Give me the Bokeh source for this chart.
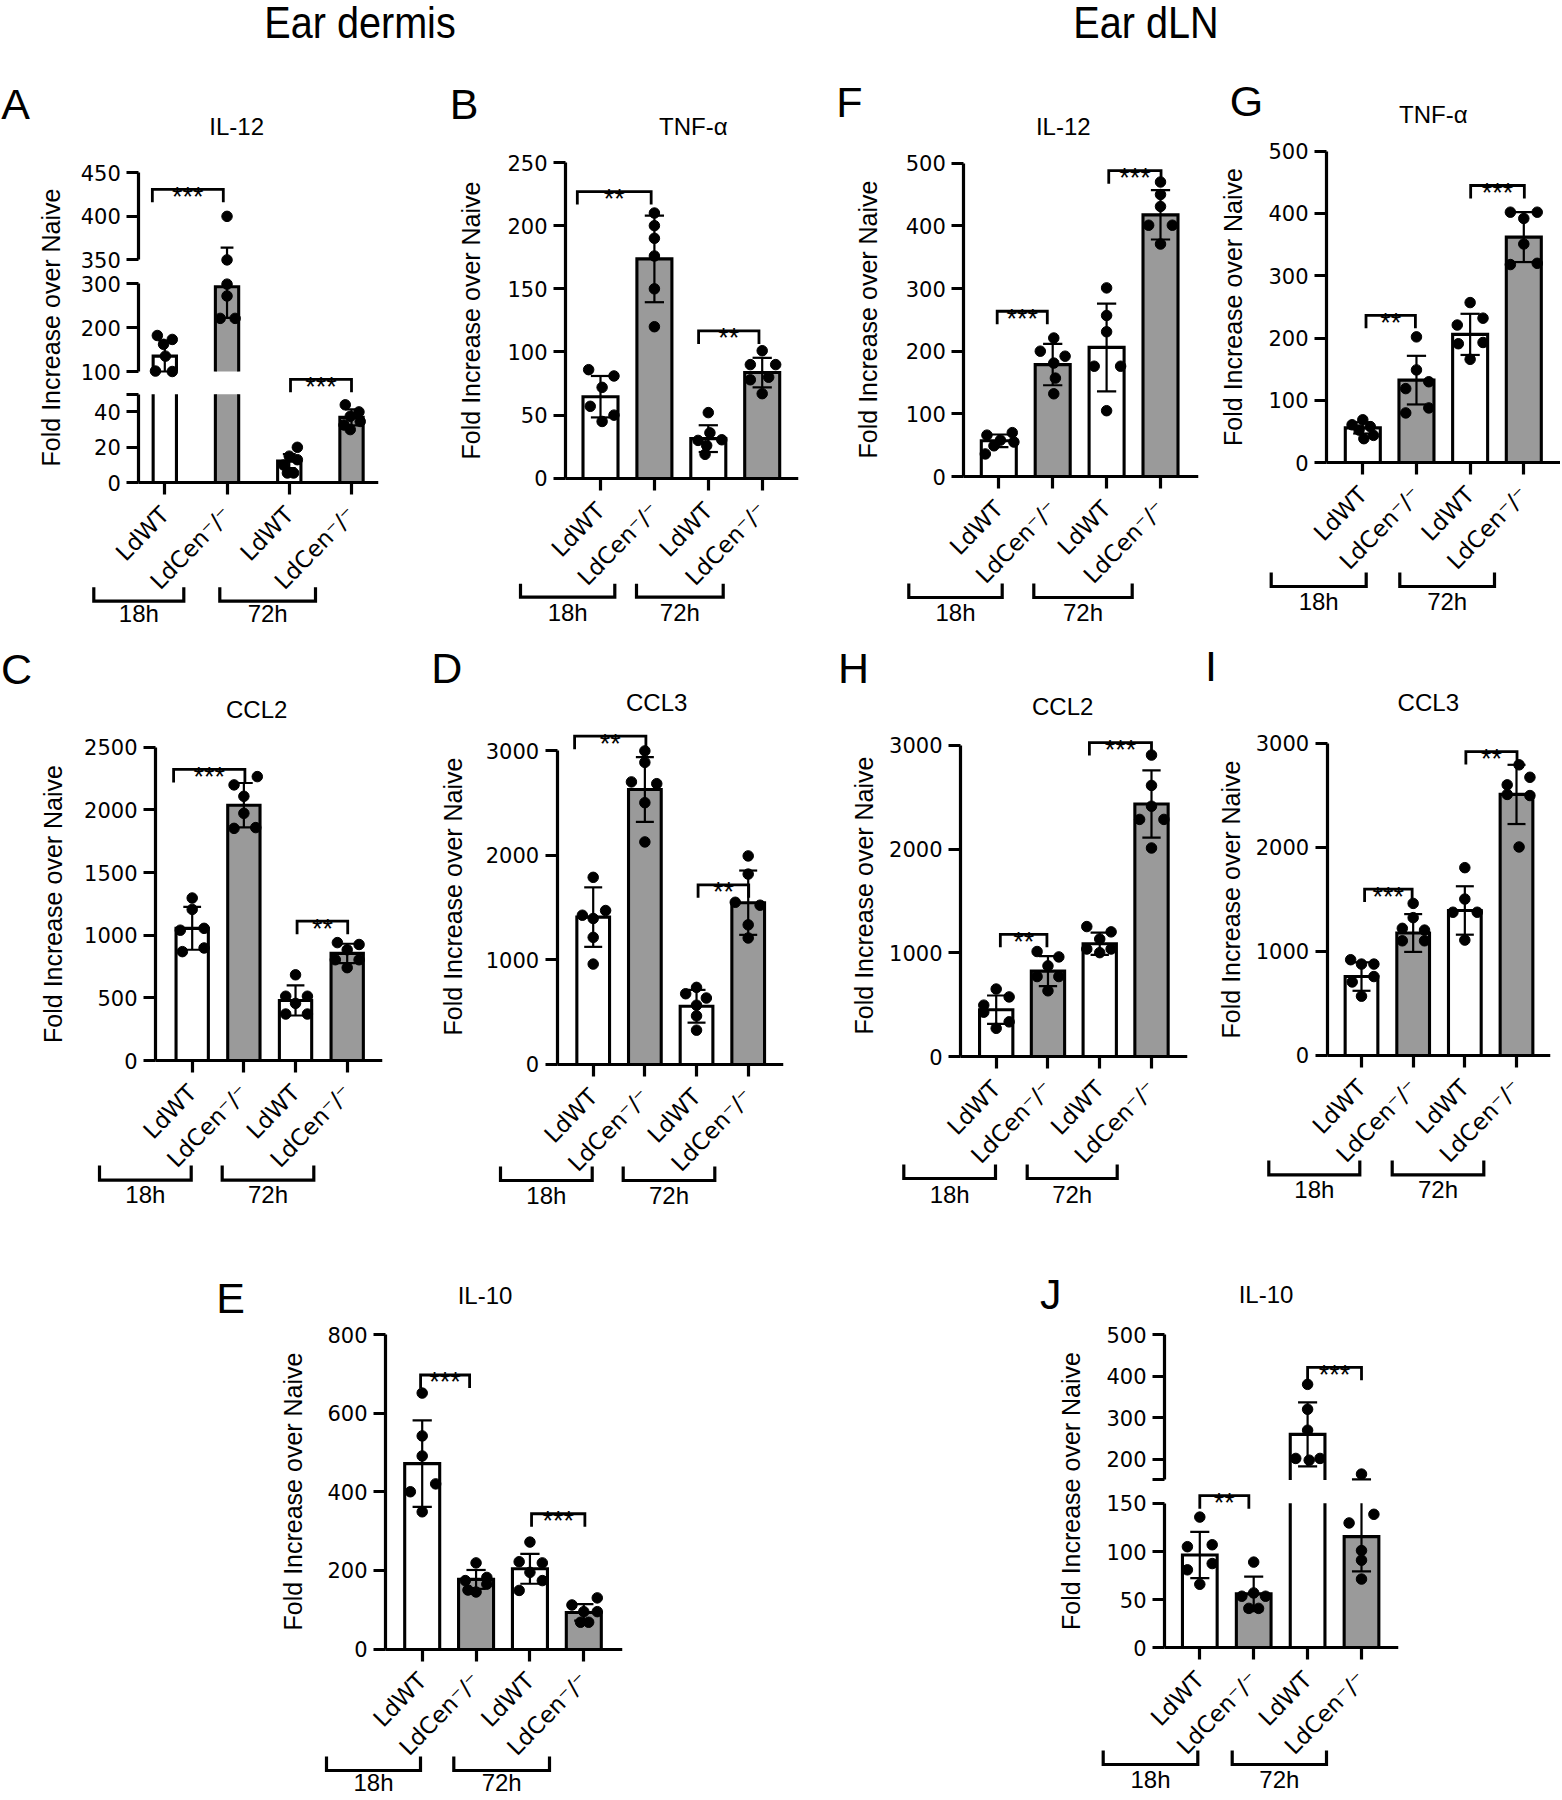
from bokeh.plotting import figure
from bokeh.models import Range1d, LinearAxis, FixedTicker, Div, Spacer
from bokeh.layouts import row, column
from bokeh.embed import file_html
from bokeh.resources import INLINE
from bokeh.core.properties import value

SANS = "Liberation Sans"
WIDE = "DejaVu Sans"
GRAY = "#9a9a9a"

# ---------------- shared labels ----------------
CATEGORIES = ["LdWT", "LdCen\u207b/\u207b", "LdWT", "LdCen\u207b/\u207b"]
GROUPS = ["18h", "72h"]
Y_LABEL = "Fold Increase over Naive"
SECTIONS = ["Ear dermis", "Ear dLN"]

# ---------------- data ----------------
# sig entries: (x start, x end, y, stars, axis segment)
A_title = "IL-12"
A_means = [135, 293, 12.2, 36.9]
A_sd = [35, 71, 3.9, 4.5]
A_points = [[182, 173, 162, 135, 101, 100], [400, 350, 299, 272, 221, 221],
            [20, 15, 13, 10, 5.5, 5.5], [44, 40, 37.5, 34.6, 30, 32.6]]
A_jitter = [[-0.12, 0.12, -0.02, 0.01, -0.15, 0.12], [0, 0, 0, 0, -0.11, 0.13],
            [0.13, 0, 0.13, -0.09, -0.03, 0.07], [-0.1, 0.12, -0.02, 0.14, -0.02, -0.12]]
A_sig = [(-0.2, 0.94, 431, "***", 2), (2.02, 3.0, 58.4, "***", 0)]
A_axis = [(0, 50, [0, 20, 40, 50], [50]), (100, 300, [100, 200, 300], []), (350, 450, [350, 400, 450], [])]

B_title = "TNF-\u03b1"
B_means = [64.6, 173.7, 31.4, 83.7]
B_sd = [16.4, 34.3, 10.6, 11.7]
B_points = [[86, 81, 72, 57, 50, 45], [210, 200, 190, 176, 150, 120],
            [52, 36, 30.5, 30, 26, 19], [101, 90, 90, 80, 78, 67]]
B_jitter = [[-0.22, 0.25, 0.03, -0.19, 0.25, 0.03], [0, 0, 0, 0, 0, 0],
            [0, 0.03, 0.25, -0.19, -0.03, -0.06], [0, -0.22, 0.25, 0.12, -0.22, 0]]
B_sig = [(-0.43, 0.94, 227, "**", 0), (1.82, 2.94, 116.7, "**", 0)]
B_axis = [(0, 250, [0, 50, 100, 150, 200, 250], [])]

F_title = "IL-12"
F_means = [57, 178.6, 206, 417.6]
F_sd = [10, 33, 70, 39.4]
F_points = [[66, 70, 58, 49, 55, 36], [221, 200, 192, 181, 157, 132],
            [301, 257, 231, 176, 176, 105], [470, 450, 431, 401, 401, 371]]
F_jitter = [[-0.22, 0.25, 0.03, -0.09, 0.28, -0.25], [0.02, -0.23, 0.23, 0.02, 0.05, 0.02],
            [0, 0, 0, -0.23, 0.26, 0], [0, 0, 0, -0.22, 0.22, 0]]
F_sig = [(-0.03, 0.9, 263.7, "***", 0), (2.04, 3.01, 488, "***", 0)]
F_axis = [(0, 500, [0, 100, 200, 300, 400, 500], [])]

G_title = "TNF-\u03b1"
G_means = [56, 132.6, 206, 362]
G_sd = [9, 39, 33, 40]
G_points = [[69, 61, 58, 52.5, 44, 38.7], [202, 149, 130, 119, 88, 80],
            [257, 221, 232, 191, 193, 166], [402, 402, 392, 351, 318, 320]]
G_jitter = [[0, -0.2, 0.14, -0.07, 0.2, 0.02], [0, 0, 0.23, -0.2, 0.23, -0.2],
            [0, -0.24, 0.24, -0.22, 0.24, 0], [-0.25, 0.25, 0, 0, -0.25, 0.25]]
G_sig = [(0.06, 0.98, 236.5, "**", 0), (2.01, 3.01, 444.8, "***", 0)]
G_axis = [(0, 500, [0, 100, 200, 300, 400, 500], [])]

C_title = "CCL2"
C_means = [1055, 2038, 479, 855]
C_sd = [171, 177, 120, 77]
C_points = [[1297, 1206, 1040, 1055, 869, 898], [2266, 2200, 2109, 1973, 1853, 1859],
            [684, 513, 513, 456, 371, 371], [941, 926, 884, 804, 804, 741]]
C_jitter = [[0, 0, -0.23, 0.23, -0.19, 0.23], [0.26, -0.19, 0, 0, -0.19, 0.23],
            [0, -0.19, 0.23, 0, -0.19, 0.23], [-0.19, 0.23, 0, -0.23, 0.23, 0]]
C_sig = [(-0.36, 1.02, 2323, "***", 0), (2.03, 3.01, 1112, "**", 0)]
C_axis = [(0, 2500, [0, 500, 1000, 1500, 2000, 2500], [])]

D_title = "CCL3"
D_means = [1408, 2630, 554, 1546]
D_sd = [285, 310, 157, 308]
D_points = [[1789, 1471, 1426, 1395, 1214, 958], [3000, 2890, 2703, 2686, 2504, 2128],
            [735, 674, 633, 564, 462, 325], [1994, 1820, 1550, 1522, 1334, 1208]]
D_jitter = [[0, 0.24, -0.21, 0, 0, 0], [0, 0, -0.26, 0.23, 0, 0],
            [0, -0.21, 0.19, 0, 0, 0], [0, 0, -0.25, 0.23, 0, 0]]
D_sig = [(-0.36, 1.02, 3141, "**", 0), (2.03, 3.01, 1717, "**", 0)]
D_axis = [(0, 3000, [0, 1000, 2000, 3000], [])]

H_title = "CCL2"
H_means = [454, 825, 1089, 2433]
H_sd = [137, 144, 107, 323]
H_points = [[653, 577, 498, 430, 337, 275], [1014, 962, 876, 773, 773, 636],
            [1254, 1203, 1134, 1038, 1003, 1038], [2904, 2612, 2412, 2285, 2285, 2010]]
H_jitter = [[0, 0.25, -0.24, -0.24, 0.25, 0], [-0.21, 0.21, 0, -0.21, 0.21, 0],
            [-0.25, 0.22, 0, -0.25, 0, 0.22], [0, 0, 0, -0.23, 0.24, 0]]
H_sig = [(0.08, 0.98, 1179, "**", 0), (1.8, 3.0, 3024, "***", 0)]
H_axis = [(0, 3000, [0, 1000, 2000, 3000], [])]

I_title = "CCL3"
I_means = [756, 1175, 1392, 2509]
I_sd = [137, 182, 233, 285]
I_points = [[918, 876, 876, 704, 756, 567], [1460, 1323, 1220, 1203, 1100, 1100],
            [1804, 1502, 1375, 1375, 1107], [2794, 2674, 2601, 2498, 2509, 2003]]
I_jitter = [[-0.21, 0, 0.24, -0.18, 0.24, 0], [0, 0, -0.21, 0.22, -0.21, 0.22],
            [0, 0, -0.23, 0.24, 0], [0.05, 0.26, -0.18, 0.26, -0.18, 0.05]]
I_sig = [(0.06, 0.98, 1598, "***", 0), (2.02, 3.01, 2921, "**", 0)]
I_axis = [(0, 3000, [0, 1000, 2000, 3000], [])]

E_title = "IL-10"
E_means = [471.5, 177, 204, 93]
E_sd = [110, 24, 38, 21]
E_points = [[651, 542, 491, 400, 420, 349], [219, 182, 174, 165, 145, 150],
            [272, 222, 219, 195, 174, 149], [130, 112, 95, 95, 68, 68]]
E_jitter = [[0, 0, 0, -0.22, 0.25, 0], [0, 0.2, -0.2, 0.2, 0, -0.15],
            [0, -0.2, 0.23, 0, 0.23, -0.2], [0.25, -0.22, 0, 0.25, -0.06, 0.09]]
E_sig = [(-0.03, 0.88, 697, "***", 0), (2.03, 3.02, 344, "***", 0)]
E_axis = [(0, 800, [0, 200, 400, 600, 800], [])]

J_title = "IL-10"
J_means = [96.4, 56, 259.7, 115.4]
J_sd = [24, 18, 77, 36]
J_points = [[135.7, 105, 107, 81, 87.5, 66], [89, 53.6, 53.6, 57, 41, 41],
            [380, 320, 269.6, 201.7, 201.7, 197.5], [164, 129.6, 138.6, 101, 91, 71.4]]
J_jitter = [[0, -0.23, 0.23, -0.23, 0.23, 0], [0, -0.22, 0.22, 0, -0.09, 0.09],
            [0, 0, 0, -0.22, 0.23, 0.03], [0, -0.23, 0.23, 0, 0, 0]]
J_sig = [(0.0, 0.91, 157.9, "**", 0), (2.0, 3.0, 421, "***", 1)]
J_axis = [(0, 150, [0, 50, 100, 150], []), (150, 500, [150, 200, 300, 400, 500], [150])]

# ---------------- layout geometry (page pixels) ----------------
PAGE_W = 1560
PAGE_H = 1798
GEOM = {
    "A": dict(box=(0, 420), row=(60, 640), yaxis_x=138.3, axis_end=378.3, cats_px=(164.3, 351.0), bar_px=23.3,
              seg_px=[(482.2, 393.7), (371.0, 283.2), (259.4, 172.3)], group_y=(586.7, 600.7, 613.3),
              group_x=[(93.3, 183.3), (219.3, 315.0)], letter=(3.3, 104.1), title_xy=(236.7, 127.2), ylabel_cx=50.0),
    "B": dict(box=(420, 820), row=(60, 640), yaxis_x=565.0, axis_end=798.3, cats_px=(600.0, 761.7), bar_px=35.0,
              seg_px=[(477.8, 162.0)], group_y=(583.3, 596.7, 612.0),
              group_x=[(520.0, 614.3), (636.0, 722.7)], letter=(451.7, 104.0), title_xy=(693.3, 126.5), ylabel_cx=470.0),
    "F": dict(box=(820, 1210), row=(60, 640), yaxis_x=963.3, axis_end=1198.3, cats_px=(998.3, 1160.0), bar_px=35.0,
              seg_px=[(476.0, 162.7)], group_y=(583.0, 597.0, 612.0),
              group_x=[(908.3, 1001.7), (1033.3, 1131.7)], letter=(838.3, 102.4), title_xy=(1063.3, 126.5), ylabel_cx=867.5),
    "G": dict(box=(1210, PAGE_W), row=(60, 640), yaxis_x=1326.0, axis_end=1561.7, cats_px=(1362.3, 1523.3), bar_px=35.0,
              seg_px=[(462.3, 150.6)], group_y=(572.0, 586.0, 601.0),
              group_x=[(1270.7, 1365.7), (1399.3, 1494.0)], letter=(1231.7, 101.5), title_xy=(1433.3, 114.4), ylabel_cx=1231.7),
    "C": dict(box=(0, 420), row=(640, 1250), yaxis_x=155.0, axis_end=381.7, cats_px=(191.7, 346.7), bar_px=32.3,
              seg_px=[(1060.0, 746.8)], group_y=(1165.0, 1179.6, 1194.0),
              group_x=[(99.0, 190.7), (221.7, 313.3)], letter=(3.0, 669.0), title_xy=(256.7, 710.0), ylabel_cx=51.7),
    "D": dict(box=(420, 815), row=(640, 1250), yaxis_x=556.7, axis_end=783.3, cats_px=(592.7, 747.7), bar_px=32.7,
              seg_px=[(1063.6, 750.4)], group_y=(1166.0, 1180.0, 1195.0),
              group_x=[(500.0, 591.7), (622.7, 714.3)], letter=(433.3, 668.0), title_xy=(656.7, 702.9), ylabel_cx=451.7),
    "H": dict(box=(815, 1205), row=(640, 1250), yaxis_x=960.0, axis_end=1186.7, cats_px=(995.7, 1151.0), bar_px=33.3,
              seg_px=[(1056.4, 744.6)], group_y=(1164.0, 1178.0, 1194.0),
              group_x=[(903.3, 995.0), (1026.7, 1116.7)], letter=(840.0, 668.0), title_xy=(1062.7, 706.4), ylabel_cx=863.3),
    "I": dict(box=(1205, PAGE_W), row=(640, 1250), yaxis_x=1326.7, axis_end=1550.0, cats_px=(1361.0, 1516.0), bar_px=32.7,
              seg_px=[(1054.6, 742.9)], group_y=(1160.0, 1174.3, 1189.0),
              group_x=[(1268.3, 1359.3), (1391.7, 1483.3)], letter=(1205.0, 666.0), title_xy=(1428.3, 702.9), ylabel_cx=1230.0),
    "E": dict(box=(200, 650), row=(1250, PAGE_H), yaxis_x=385.0, axis_end=622.0, cats_px=(421.7, 583.3), bar_px=35.0,
              seg_px=[(1648.5, 1334.0)], group_y=(1756.0, 1770.0, 1782.0),
              group_x=[(326.0, 420.0), (453.3, 549.0)], letter=(218.3, 1298.0), title_xy=(485.0, 1296.2), ylabel_cx=291.7),
    "J": dict(box=(1040, 1440), row=(1250, PAGE_H), yaxis_x=1164.0, axis_end=1398.3, cats_px=(1199.3, 1361.0), bar_px=34.7,
              seg_px=[(1647.4, 1502.8), (1479.4, 1334.0)], group_y=(1750.0, 1764.0, 1779.0),
              group_x=[(1102.7, 1197.3), (1231.7, 1326.0)], letter=(1040.0, 1294.5), title_xy=(1266.0, 1294.4), ylabel_cx=1070.0),
}

TICK = 12
FRAME_EXT = 14          # frame continues this far below the zero line
LABEL_DROP = 28         # category label anchor, pixels below the zero line
AX_STYLE = dict(axis_line_width=3.2, axis_line_color="black", major_tick_line_width=3.2, major_tick_line_color="black",
                major_tick_out=TICK, major_tick_in=0, minor_tick_line_color=None)
YAX = dict(AX_STYLE, major_label_text_font=WIDE, major_label_text_font_size="21px", major_label_standoff=6,
           major_label_text_color="black")


def header_div(letter, title, g, W, H):
    bx0 = g["box"][0]
    ry0 = g["row"][0]
    lx, ly = g["letter"]
    tx, ty = g["title_xy"]
    LS, TS = 43, 24
    html = (
        f'<div style="position:relative;width:{W}px;height:{H}px;font-family:\'{SANS}\';color:#000;">'
        f'<span style="position:absolute;left:{max(lx - bx0 - 2, 0):.1f}px;top:{ly - ry0 - LS * 0.49:.1f}px;'
        f'font-size:{LS}px;line-height:1;white-space:nowrap;">{letter}</span>'
        f'<span style="position:absolute;left:{tx - bx0:.1f}px;top:{ty - ry0 - TS * 0.49:.1f}px;'
        f'font-size:{TS}px;line-height:1;white-space:nowrap;transform:translateX(-50%);">{title}</span></div>'
    )
    return Div(text=html, width=W, height=H, margin=0, styles={"overflow": "visible"})


def plain_fig(**kw):
    f = figure(output_backend="svg", toolbar_location=None, outline_line_color=None,
               background_fill_color="white", border_fill_color="white",
               x_axis_location=None, y_axis_location=None, min_border_top=0, min_border_bottom=0,
               min_border_left=0, **kw)
    f.title.visible = False
    f.grid.visible = False
    return f


def build_panel(letter, title, means, sds, points, jitter, sig, axis_spec):
    g = GEOM[letter]
    bx0, bx1 = g["box"]
    ry0, ry1 = g["row"]
    W = bx1 - bx0
    c0, c3 = g["cats_px"]
    s = (c3 - c0) / 3.0
    right_px = int(round(min(g["axis_end"], bx1)))
    x_rng = Range1d((bx0 - c0) / s, 3 + (right_px - c3) / s)
    ax_x = (g["yaxis_x"] - c0) / s
    bw = g["bar_px"] / s
    cw = 0.55 * bw

    segs = []
    for (lo, hi, ticks, hidden), (plo, phi) in zip(axis_spec, g["seg_px"]):
        segs.append(dict(lo=lo, hi=hi, ticks=ticks, hidden=hidden, plo=plo, phi=phi,
                         ppu=(plo - phi) / (hi - lo)))
    T = segs[-1]["phi"] - 14
    for (x0, x1, y, lab, k) in sig:
        sg = segs[k]
        T = min(T, sg["plo"] - (y - sg["lo"]) * sg["ppu"] - 22)
    T = int(round(T))
    Z = int(round(segs[0]["plo"]))
    Zf = Z + FRAME_EXT

    for k, sg in enumerate(segs):
        sg["range"] = Range1d(sg["lo"] - (Zf - sg["plo"]) / sg["ppu"], sg["hi"] + (sg["phi"] - T) / sg["ppu"])
        sg["name"] = "default" if k == 0 else f"s{k}"

    p = plain_fig(width=W, height=Zf - T, x_range=x_rng, y_range=segs[0]["range"],
                  min_border_right=bx1 - right_px)
    if len(segs) > 1:
        p.extra_y_ranges = {sg["name"]: sg["range"] for sg in segs[1:]}

    for sg in segs:
        ax = LinearAxis(y_range_name=sg["name"], fixed_location=ax_x, bounds=(sg["lo"], sg["hi"]),
                        ticker=FixedTicker(ticks=sg["ticks"]),
                        major_label_overrides={t: "" for t in sg["hidden"]}, **YAX)
        p.add_layout(ax, "left")
    lab_ax = LinearAxis(fixed_location=ax_x, ticker=FixedTicker(ticks=[]), axis_line_color=None,
                        major_tick_out=0, major_tick_in=0, major_label_standoff=0,
                        minor_tick_line_color=None, major_tick_line_color=None,
                        axis_label=Y_LABEL, axis_label_standoff=int(round(g["yaxis_x"] - g["ylabel_cx"] - 14)),
                        axis_label_text_font=SANS, axis_label_text_font_size="25px",
                        axis_label_text_font_style="normal", axis_label_text_color="black")
    p.add_layout(lab_ax, "left")

    xa = LinearAxis(fixed_location=0, bounds=(ax_x, x_rng.end), ticker=FixedTicker(ticks=[0, 1, 2, 3]),
                    major_label_overrides={i: "" for i in range(4)}, **AX_STYLE)
    p.add_layout(xa, "below")

    fills = ["white", GRAY, "white", GRAY]
    for sg in segs:
        lo, hi, rn = sg["lo"], sg["hi"], sg["name"]
        bx, bbot, btop, bcol = [], [], [], []
        oxs, oys, exs, eys, dxs, dys = [], [], [], [], [], []
        for i, (m, sd) in enumerate(zip(means, sds)):
            L, R = i - bw / 2, i + bw / 2
            if m > lo:
                bx.append(i); bbot.append(lo); btop.append(min(m, hi)); bcol.append(fills[i])
                if m <= hi:
                    oxs.append([L, L, R, R]); oys.append([lo, m, m, lo])
                else:
                    oxs += [[L, L], [R, R]]; oys += [[lo, hi], [lo, hi]]
            e0, e1 = m - sd, m + sd
            a, b = max(e0, lo), min(e1, hi)
            if a < b:
                exs.append([i, i]); eys.append([a, b])
            for e in (e0, e1):
                if lo <= e <= hi:
                    exs.append([i - cw / 2, i + cw / 2]); eys.append([e, e])
            for v, j in zip(points[i], jitter[i]):
                if lo <= v <= hi:
                    dxs.append(i + j); dys.append(v)
        if bx:
            p.vbar(x=bx, width=bw, bottom=bbot, top=btop, fill_color=bcol, line_color=None, y_range_name=rn)
        if oxs:
            p.multi_line(oxs, oys, line_color="black", line_width=3.1, line_join="miter", y_range_name=rn)
        if exs:
            p.multi_line(exs, eys, line_color="black", line_width=2.2, y_range_name=rn)
        if dxs:
            p.scatter(dxs, dys, size=10.5, fill_color="black", line_color="black", y_range_name=rn)

    for (x0, x1, y, lab, k) in sig:
        sg = segs[k]
        d = 13 / sg["ppu"]
        p.multi_line([[x0, x0, x1, x1]], [[y - d, y, y, y - d]], line_color="black", line_width=2.8,
                     line_join="miter", y_range_name=sg["name"])
        p.text(x=[(x0 + x1) / 2], y=[y], text=[lab], text_align="center", text_baseline="alphabetic",
               y_offset=7.5, text_font=value(SANS), text_font_size="27px", text_color="black",
               y_range_name=sg["name"])

    # lower strip: category labels, time-point brackets and their labels
    bh = ry1 - Zf
    q = plain_fig(width=W, height=bh, x_range=x_rng, y_range=Range1d(bh, 0),
                  min_border_right=bx1 - right_px)
    q.text(x=[0, 1, 2, 3], y=[LABEL_DROP - FRAME_EXT] * 4, text=CATEGORIES, angle=0.8, text_align="right",
           text_baseline="middle", text_font=value(WIDE), text_font_size="23px", text_color="black")
    gt, gl, gtext = g["group_y"]
    t0, l0, tc = gt - Zf, gl - Zf, gtext - Zf
    gxs, gys, cxs = [], [], []
    for (gx0, gx1) in g["group_x"]:
        u0, u1 = (gx0 - c0) / s, (gx1 - c0) / s
        gxs.append([u0, u0, u1, u1]); gys.append([t0, l0, l0, t0]); cxs.append((u0 + u1) / 2)
    q.multi_line(gxs, gys, line_color="black", line_width=3.2, line_join="miter")
    q.text(x=cxs, y=[tc, tc], text=GROUPS, text_align="center", text_baseline="middle",
           text_font=value(SANS), text_font_size="24px", text_color="black")

    head = header_div(letter, title, g, W, T - ry0)
    return column(head, p, q, spacing=0)


PA = build_panel("A", A_title, A_means, A_sd, A_points, A_jitter, A_sig, A_axis)
PB = build_panel("B", B_title, B_means, B_sd, B_points, B_jitter, B_sig, B_axis)
PF = build_panel("F", F_title, F_means, F_sd, F_points, F_jitter, F_sig, F_axis)
PG = build_panel("G", G_title, G_means, G_sd, G_points, G_jitter, G_sig, G_axis)
PC = build_panel("C", C_title, C_means, C_sd, C_points, C_jitter, C_sig, C_axis)
PD = build_panel("D", D_title, D_means, D_sd, D_points, D_jitter, D_sig, D_axis)
PH = build_panel("H", H_title, H_means, H_sd, H_points, H_jitter, H_sig, H_axis)
PI = build_panel("I", I_title, I_means, I_sd, I_points, I_jitter, I_sig, I_axis)
PE = build_panel("E", E_title, E_means, E_sd, E_points, E_jitter, E_sig, E_axis)
PJ = build_panel("J", J_title, J_means, J_sd, J_points, J_jitter, J_sig, J_axis)

HS = 45
top_html = (
    f'<div style="position:relative;width:{PAGE_W}px;height:60px;font-family:\'{SANS}\';color:#000;">'
    f'<span style="position:absolute;left:360px;top:0px;font-size:{HS}px;line-height:1;'
    f'white-space:nowrap;transform:translateX(-50%) scaleX(0.88);">{SECTIONS[0]}</span>'
    f'<span style="position:absolute;left:1146px;top:0px;font-size:{HS}px;line-height:1;'
    f'white-space:nowrap;transform:translateX(-50%) scaleX(0.88);">{SECTIONS[1]}</span></div>'
)
header = Div(text=top_html, width=PAGE_W, height=60, margin=0, styles={"overflow": "visible"})

R3H = PAGE_H - 1250
row1 = row(PA, PB, PF, PG, spacing=0)
row2 = row(PC, PD, PH, PI, spacing=0)
row3 = row(Spacer(width=200, height=R3H, margin=0), PE, Spacer(width=390, height=R3H, margin=0), PJ,
           Spacer(width=PAGE_W - 1440, height=R3H, margin=0), spacing=0)
page = column(header, row1, row2, row3, spacing=0)

open("out.html", "w").write(file_html(page, INLINE))
